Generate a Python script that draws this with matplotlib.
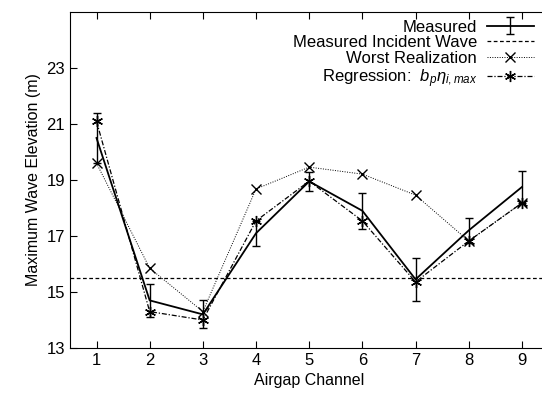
import matplotlib.pyplot as plt

# Airgap channels and values (m)
channels = [1, 2, 3, 4, 5, 6, 7, 8, 9]
measured = [20.5, 14.7, 14.2, 17.1, 18.95, 17.9, 15.45, 17.2, 18.75]
measured_err = [0.9, 0.6, 0.5, 0.45, 0.35, 0.65, 0.77, 0.45, 0.57]
incident_wave = 15.5
worst = [19.6, 15.85, 14.3, 18.68, 19.46, 19.21, 18.46, 16.82, 18.18]
regression = [21.1, 14.3, 14.0, 17.54, 18.96, 17.54, 15.36, 16.82, 18.18]

plt.rcParams['font.family'] = ['Liberation Sans', 'DejaVu Sans']
plt.rcParams['mathtext.fontset'] = 'custom'
plt.rcParams['mathtext.rm'] = 'Liberation Sans'
plt.rcParams['mathtext.it'] = 'Liberation Sans:italic'

fig = plt.figure(figsize=(5.42, 4.0), dpi=100)
ax = fig.add_axes([0.129, 0.13, 0.883, 0.84])

h1 = ax.errorbar(channels, measured, yerr=measured_err, color='black', lw=1.3,
                 capsize=3, elinewidth=1.0, capthick=1.0, label='Measured')
h2 = ax.axhline(incident_wave, color='black', lw=0.9, ls=(0, (3, 2)),
                label='Measured Incident Wave')
h3, = ax.plot(channels, worst, color='black', lw=0.7, ls=(0, (1, 1.5)),
              marker='x', ms=7, mew=1.0, label='Worst Realization')
h4, = ax.plot(channels, regression, color='black', lw=0.9,
              ls=(0, (4, 1.5, 1, 1.5)), marker=(6, 2, 0), ms=8, mew=1.0,
              label=r'Regression:  $b_p\eta_{i,max}$')

ax.set_xlim(0.5, 9.5)
ax.set_ylim(13, 25)
ax.set_xticks(channels)
ax.set_yticks([13, 15, 17, 19, 21, 23])
ax.tick_params(direction='in', top=True, right=True, length=5, labelsize=12)
ax.set_xlabel('Airgap Channel', fontsize=11.5)
ax.set_ylabel('Maximum Wave Elevation (m)', fontsize=11.5)

ax.legend([h1, h2, h3, h4],
          ['Measured', 'Measured Incident Wave', 'Worst Realization',
           r'Regression:  $b_p\eta_{i,max}$'],
          loc='upper right', bbox_to_anchor=(0.985, 1.0), frameon=False,
          markerfirst=False, fontsize=12, handlelength=2.8,
          labelspacing=0.05, borderaxespad=0.05, handletextpad=0.6)

fig.savefig('out.png')
